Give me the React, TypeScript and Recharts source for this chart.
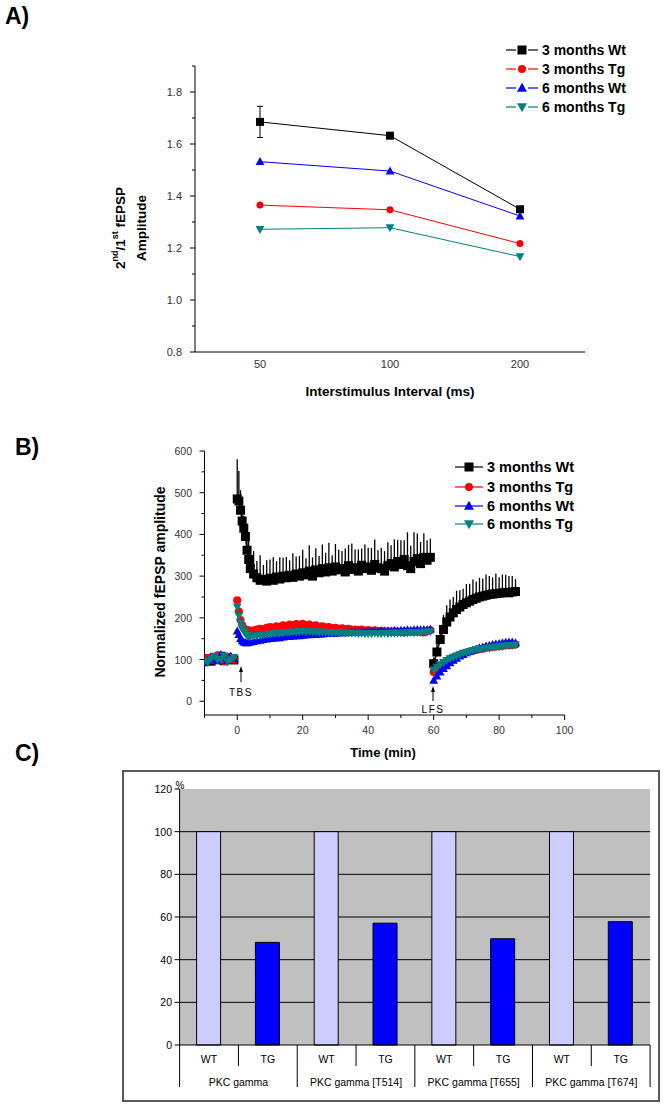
import React from 'react';
import { LineChart, Line, XAxis, YAxis, ErrorBar, BarChart, Bar, Cell, CartesianGrid } from 'recharts';

const FONT = '"Liberation Sans", Arial, Helvetica, sans-serif';

// ---------- A) paired-pulse facilitation ----------
const isiLabels = ['50', '100', '200'];
const ppfWt3 = [1.685, 1.632, 1.349];
const ppfTg3 = [1.365, 1.347, 1.217];
const ppfWt6 = [1.532, 1.496, 1.323];
const ppfTg6 = [1.272, 1.278, 1.167];
const ppfWt3Err = [0.06, 0.006, 0.006];
const ppfTicks = [0.8, 0.9, 1.0, 1.1, 1.2, 1.3, 1.4, 1.5, 1.6, 1.7, 1.8, 1.9];

// ---------- B) LTP time course ----------
const baseTime = [-10, -9, -8, -7, -6, -5, -4, -3, -2, -1];
const baseWt3 = [98, 102, 96, 105, 100, 108, 97, 104, 101, 99];
const baseWt3Err = [8, 6, 10, 7, 9, 6, 8, 10, 7, 9];
const baseTg3 = [95, 104, 100, 98, 110, 102, 96, 106, 103, 100];
const baseWt6 = [92, 99, 106, 101, 97, 112, 104, 98, 108, 102];
const baseTg6 = [97, 93, 103, 108, 99, 101, 109, 95, 100, 105];

const tbsTime = [0, 0.5, 1, 1.5, 2, 2.5, 3, 3.5, 4, 5, 6, 7, 8, 9, 10, 11, 12, 13, 14, 15, 16, 17, 18, 19, 20, 21, 22, 23, 24, 25, 26, 27, 28, 29, 30, 31, 32, 33, 34, 35, 36, 37, 38, 39, 40, 41, 42, 43, 44, 45, 46, 47, 48, 49, 50, 51, 52, 53, 54, 55, 56, 57, 58, 59];
const tbsWt3 = [485, 480, 458, 432, 415, 395, 362, 340, 318,
  305, 296, 290, 292, 288, 295, 290, 298, 293, 300,
  296, 302, 297, 305, 300, 308, 303, 312, 300, 315,
  308, 318, 310, 320, 312, 322, 315, 318, 310, 325,
  316, 320, 312, 326, 318, 322, 314, 328, 320, 318,
  312, 325, 330, 322, 335, 328, 340, 325, 318, 335,
  342, 330, 345, 338, 345];
const tbsWt3Err = [95, 72, 48, 42, 30, 28, 25, 45, 50,
  55, 40, 60, 35, 50, 45, 55, 38, 52, 44,
  50, 36, 58, 42, 48, 55, 40, 62, 45, 52,
  40, 58, 46, 60, 38, 55, 48, 42, 56, 50,
  62, 44, 52, 40, 58, 46, 54, 60, 42, 50,
  48, 56, 44, 66, 52, 58, 46, 80, 55, 70,
  60, 52, 58, 48, 45];
const tbsTg3 = [242, 215, 195, 182, 175, 172, 170, 170, 168,
  170, 172, 174, 172, 176, 178, 176, 180, 178, 182,
  180, 184, 182, 185, 183, 186, 182, 184, 180, 182,
  178, 180, 177, 178, 175, 176, 174, 175, 172, 174,
  171, 172, 170, 172, 169, 171, 168, 170, 168, 169,
  167, 168, 166, 168, 166, 167, 165, 167, 166, 168,
  166, 167, 165, 168, 170];
const tbsWt6 = [168, 160, 150, 145, 142, 140, 140, 141, 142,
  143, 145, 146, 148, 149, 150, 151, 152, 152, 154,
  155, 155, 156, 157, 157, 158, 159, 159, 160, 160,
  161, 161, 162, 162, 163, 163, 164, 164, 164, 165,
  165, 166, 166, 166, 167, 167, 168, 167, 168, 168,
  169, 168, 169, 170, 169, 170, 170, 171, 170, 171,
  172, 171, 172, 172, 173];
const tbsTg6 = [226, 205, 188, 176, 168, 162, 158, 156, 155,
  156, 157, 158, 159, 160, 161, 162, 163, 163, 164,
  165, 165, 166, 166, 167, 167, 166, 167, 166, 166,
  165, 166, 165, 165, 164, 165, 164, 164, 163, 164,
  163, 163, 162, 163, 162, 162, 162, 163, 162, 162,
  163, 162, 163, 163, 164, 163, 164, 164, 165, 164,
  165, 165, 166, 166, 167];

const lfsTime = [60, 61, 62, 63, 64, 65, 66, 67, 68, 69, 70, 71, 72, 73, 74, 75, 76, 77, 78, 79, 80, 81, 82, 83, 84, 85];
const lfsWt3 = [90, 118, 148, 172, 190, 202, 212, 220, 226, 232, 236, 240, 244, 247, 250, 252, 254, 256, 257, 258, 259, 260, 261, 260, 262, 263];
const lfsWt3Err = [15, 22, 28, 35, 40, 42, 38, 45, 40, 38, 45, 42, 48, 40, 46, 42, 50, 44, 40, 48, 38, 44, 42, 40, 38, 30];
const lfsTg3 = [70, 78, 85, 91, 96, 101, 105, 108, 111, 114, 117, 119, 121, 123, 125, 126, 128, 129, 130, 131, 132, 133, 134, 134, 135, 136];
const lfsWt6 = [50, 60, 70, 78, 85, 92, 98, 103, 108, 112, 116, 119, 122, 125, 128, 130, 132, 134, 136, 137, 138, 140, 141, 142, 142, 140];
const lfsTg6 = [75, 82, 88, 93, 98, 102, 106, 109, 112, 115, 117, 119, 121, 123, 124, 126, 127, 128, 129, 130, 131, 132, 133, 134, 134, 135];

const ltpXTicks = [-10, 0, 10, 20, 30, 40, 50, 60, 70, 80, 90, 100];
const ltpYTicks = [0, 50, 100, 150, 200, 250, 300, 350, 400, 450, 500, 550, 600];

// ---------- C) western blot quantification ----------
const groups = ['PKC gamma', 'PKC gamma [T514]', 'PKC gamma [T655]', 'PKC gamma [T674]'];
const lanes = ['WT', 'TG'];
const wtPct = [100, 100, 100, 100];
const tgPct = [48.1, 57.1, 49.8, 57.8];
const pctTicks = [0, 20, 40, 60, 80, 100, 120];

const SERIES = [
  { key: 'wt3', name: '3 months Wt', color: '#000000', shape: 'square' },
  { key: 'tg3', name: '3 months Tg', color: '#ff0000', shape: 'circle' },
  { key: 'wt6', name: '6 months Wt', color: '#0000ff', shape: 'up' },
  { key: 'tg6', name: '6 months Tg', color: '#008080', shape: 'down' },
];

function marker(shape: string, cx: number, cy: number, s: number, color: string, key?: string) {
  const h = s / 2;
  if (shape === 'square') return <rect key={key} x={cx - h} y={cy - h} width={s} height={s} fill={color} />;
  if (shape === 'circle') return <circle key={key} cx={cx} cy={cy} r={h} fill={color} />;
  if (shape === 'up')
    return <polygon key={key} points={`${cx},${cy - h * 1.15} ${cx - h * 1.1},${cy + h * 0.85} ${cx + h * 1.1},${cy + h * 0.85}`} fill={color} />;
  return <polygon key={key} points={`${cx},${cy + h * 1.15} ${cx - h * 1.1},${cy - h * 0.85} ${cx + h * 1.1},${cy - h * 0.85}`} fill={color} />;
}

const dotFor = (shape: string, color: string, size: number) => (p: any) => {
  const k = `d-${p.index}`;
  if (p.cx == null || p.cy == null) return <g key={k} />;
  return marker(shape, p.cx, p.cy, size, color, k);
};

const ppfRows = isiLabels.map((isi, i) => ({
  isi, wt3: ppfWt3[i], tg3: ppfTg3[i], wt6: ppfWt6[i], tg6: ppfTg6[i], wt3Err: ppfWt3Err[i],
}));

const segments = [
  { t: baseTime, wt3: baseWt3, err: baseWt3Err, tg3: baseTg3, wt6: baseWt6, tg6: baseTg6 },
  { t: tbsTime, wt3: tbsWt3, err: tbsWt3Err, tg3: tbsTg3, wt6: tbsWt6, tg6: tbsTg6 },
  { t: lfsTime, wt3: lfsWt3, err: lfsWt3Err, tg3: lfsTg3, wt6: lfsWt6, tg6: lfsTg6 },
];
const segRows = segments.map((s) =>
  s.t.map((t, i) => ({ t, wt3: s.wt3[i], wt3Err: [0, s.err[i]], tg3: s.tg3[i], wt6: s.wt6[i], tg6: s.tg6[i] }))
);

const wbRows = groups.flatMap((g, gi) => [
  { id: `${gi}-WT`, lane: lanes[0], group: g, pct: wtPct[gi] },
  { id: `${gi}-TG`, lane: lanes[1], group: g, pct: tgPct[gi] },
]);

// layout of the three plot areas (chart coordinates)
const A_LEFT = 195;
const B_LEFT = 204.5;
const B_BOTTOM = 285;
const C_LEFT = 56.6;
const C_RIGHT = 527.1;
const C_BOTTOM = 274;
const C_BAND = (C_RIGHT - C_LEFT) / 8;

const ppfYTick = (p: any) => {
  const v = p.payload.value;
  const major = Math.round(v * 10) % 2 === 0;
  return (
    <g>
      <line x1={A_LEFT - (major ? 5 : 3)} x2={A_LEFT} y1={p.y} y2={p.y} stroke="#000" />
      {major && (
        <text x={182} y={p.y} textAnchor="end" dominantBaseline="central" fontSize={11} fill="#333" fontFamily={FONT}>
          {v.toFixed(1)}
        </text>
      )}
    </g>
  );
};

const ppfXTick = (p: any) => (
  <text x={p.x} y={364} textAnchor="middle" dominantBaseline="central" fontSize={11} fill="#333" fontFamily={FONT}>
    {p.payload.value}
  </text>
);

const ltpYTick = (p: any) => {
  const v = p.payload.value;
  const major = v % 100 === 0;
  return (
    <g>
      <line x1={B_LEFT - (major ? 5 : 3)} x2={B_LEFT} y1={p.y} y2={p.y} stroke="#000" />
      {major && (
        <text x={192} y={p.y} textAnchor="end" dominantBaseline="central" fontSize={10.5} fill="#333" fontFamily={FONT}>
          {v}
        </text>
      )}
    </g>
  );
};

const ltpXTick = (p: any) => {
  const v = p.payload.value;
  const major = v % 20 === 0;
  return (
    <g>
      <line x1={p.x} x2={p.x} y1={B_BOTTOM} y2={B_BOTTOM + (major ? 5 : 3)} stroke="#000" />
      {major && (
        <text x={p.x} y={300} textAnchor="middle" dominantBaseline="central" fontSize={10.5} fill="#333" fontFamily={FONT}>
          {v}
        </text>
      )}
    </g>
  );
};

const pctYTick = (p: any) => (
  <g>
    <line x1={C_LEFT - 5} x2={C_LEFT} y1={p.y} y2={p.y} stroke="#000" />
    <text x={49} y={p.y} textAnchor="end" dominantBaseline="central" fontSize={10.5} fill="#000" fontFamily={FONT}>
      {p.payload.value}
    </text>
  </g>
);

const laneTick = (p: any) => {
  const i = p.payload.index;
  const row = wbRows[i];
  const right = p.x + C_BAND / 2;
  const isTG = i % 2 === 1;
  return (
    <g>
      {i === 0 && <line x1={p.x - C_BAND / 2} x2={p.x - C_BAND / 2} y1={C_BOTTOM} y2={316} stroke="#000" />}
      <line x1={right} x2={right} y1={C_BOTTOM} y2={isTG ? 316 : 295} stroke="#000" />
      <text x={p.x} y={288} textAnchor="middle" dominantBaseline="central" fontSize={10.5} fill="#000" fontFamily={FONT}>
        {row.lane}
      </text>
      {isTG && (
        <text x={p.x - C_BAND / 2} y={311} textAnchor="middle" dominantBaseline="central" fontSize={10.5} fill="#000" fontFamily={FONT}>
          {row.group}
        </text>
      )}
    </g>
  );
};

function LegendRow({ x0, x1, y, s, size, textX, fontSize, gap }: any) {
  const mid = (x0 + x1) / 2;
  return (
    <g>
      <line x1={x0} x2={mid - gap} y1={y} y2={y} stroke={s.color} strokeWidth={1.2} />
      <line x1={mid + gap} x2={x1} y1={y} y2={y} stroke={s.color} strokeWidth={1.2} />
      {marker(s.shape, mid, y, size, s.color)}
      <text x={textX} y={y} dominantBaseline="central" fontSize={fontSize} fontWeight="bold" fill="#000" fontFamily={FONT}>
        {s.name}
      </text>
    </g>
  );
}

export default function App() {
  return (
    <div style={{ position: 'absolute', left: 0, top: 0, width: 664, height: 1107, background: '#fff', fontFamily: FONT }}>
      {/* A */}
      <div style={{ position: 'absolute', left: 0, top: 0 }}>
        <LineChart width={664} height={400} data={ppfRows} margin={{ top: 66, right: 79, bottom: 18, left: 135 }}>
          <XAxis dataKey="isi" height={30} padding={{ left: 65, right: 65 }} axisLine={{ stroke: '#000' }} tickLine={false} interval={0} tick={ppfXTick} />
          <YAxis type="number" domain={[0.8, 1.9]} ticks={ppfTicks} interval={0} width={60} allowDataOverflow axisLine={{ stroke: '#000' }} tickLine={false} tick={ppfYTick} />
          {SERIES.map((s) => (
            <Line key={s.key} dataKey={s.key} type="linear" stroke={s.color} strokeWidth={1} isAnimationActive={false}
              dot={dotFor(s.shape, s.color, s.shape === 'circle' ? 7 : 8)} activeDot={false}>
              {s.key === 'wt3' && <ErrorBar dataKey="wt3Err" width={3} stroke="#000" strokeWidth={1} direction="y" />}
            </Line>
          ))}
        </LineChart>
      </div>

      {/* B */}
      <div style={{ position: 'absolute', left: 0, top: 430 }}>
        <LineChart width={664} height={320} margin={{ top: 21, right: 99.4, bottom: 5, left: 144.5 }}>
          <XAxis type="number" dataKey="t" domain={[-10, 100]} ticks={ltpXTicks} interval={0} height={30} allowDataOverflow axisLine={{ stroke: '#000' }} tickLine={false} tick={ltpXTick} />
          <YAxis type="number" domain={[-33, 600]} ticks={ltpYTicks} interval={0} width={60} allowDataOverflow axisLine={{ stroke: '#000' }} tickLine={false} tick={ltpYTick} />
          {SERIES.map((s) =>
            segRows.map((rows, si) => (
              <Line key={`${s.key}-${si}`} data={rows} dataKey={s.key} type="linear" stroke={s.color}
                strokeWidth={s.key === 'wt3' ? 1.5 : 2.5}
                isAnimationActive={false} dot={dotFor(s.shape, s.color, s.key === 'wt3' ? 9 : 8)} activeDot={false}>
                {s.key === 'wt3' && <ErrorBar dataKey="wt3Err" width={0} stroke="#000" strokeWidth={1.3} direction="y" />}
              </Line>
            ))
          )}
        </LineChart>
      </div>

      {/* C */}
      <div style={{ position: 'absolute', left: 122, top: 770, width: 538, height: 332, border: '2px solid #5a5a5a', boxSizing: 'border-box' }} />
      <div style={{ position: 'absolute', left: 123, top: 771 }}>
        <BarChart width={536} height={330} data={wbRows} margin={{ top: 18, right: 8.9, bottom: 6, left: 16.6 }} barSize={24}>
          <CartesianGrid vertical={false} horizontalValues={[20, 40, 60, 80, 100]} stroke="#000" fill="#c0c0c0" />
          <XAxis dataKey="id" height={50} axisLine={{ stroke: '#000' }} tickLine={false} interval={0} tick={laneTick} />
          <YAxis type="number" domain={[0, 120]} ticks={pctTicks} interval={0} width={40} axisLine={{ stroke: '#000' }} tickLine={false} tick={pctYTick} />
          <Bar dataKey="pct" isAnimationActive={false} stroke="#000" strokeWidth={1}>
            {wbRows.map((r, i) => (
              <Cell key={`c-${i}`} fill={r.lane === 'WT' ? '#ccccff' : '#0000ff'} />
            ))}
          </Bar>
        </BarChart>
      </div>

      {/* titles, legends, annotations */}
      <svg width={664} height={1107} style={{ position: 'absolute', left: 0, top: 0, pointerEvents: 'none' }} fontFamily={FONT}>
        <text x={5} y={24} fontSize={23} fontWeight="bold" fill="#000">A)</text>
        <text x={15} y={455} fontSize={23} fontWeight="bold" fill="#000">B)</text>
        <text x={15} y={761} fontSize={23} fontWeight="bold" fill="#000">C)</text>

        {SERIES.map((s, i) => (
          <LegendRow key={`la-${s.key}`} s={s} x0={506} x1={538} y={50 + i * 19} size={s.shape === 'circle' ? 8 : 9} textX={542} fontSize={14} gap={6} />
        ))}
        <g transform="translate(120,228) rotate(-90)">
          <text x={0} y={0} textAnchor="middle" dominantBaseline="central" fontSize={13.5} fontWeight="bold" fill="#000">
            2<tspan fontSize={9} dy={-5}>nd</tspan><tspan dy={5}>/1</tspan><tspan fontSize={9} dy={-5}>st</tspan><tspan dy={5}> fEPSP</tspan>
          </text>
        </g>
        <g transform="translate(141,228) rotate(-90)">
          <text x={0} y={0} textAnchor="middle" dominantBaseline="central" fontSize={13.5} fontWeight="bold" fill="#000">Amplitude</text>
        </g>
        <text x={390} y={391} textAnchor="middle" dominantBaseline="central" fontSize={13.5} fontWeight="bold" fill="#000">
          Interstimulus Interval (ms)
        </text>

        {SERIES.map((s, i) => (
          <LegendRow key={`lb-${s.key}`} s={s} x0={455} x1={483} y={[467, 487, 506, 524][i]} size={s.shape === 'circle' ? 8 : 9} textX={487} fontSize={14.5} gap={0} />
        ))}
        <g transform="translate(160,582) rotate(-90)">
          <text x={0} y={0} textAnchor="middle" dominantBaseline="central" fontSize={14} fontWeight="bold" fill="#000">
            Normalized fEPSP amplitude
          </text>
        </g>
        <text x={383} y={752} textAnchor="middle" dominantBaseline="central" fontSize={13} fontWeight="bold" fill="#000">Time (min)</text>
        <line x1={241} x2={241} y1={682} y2={670} stroke="#000" strokeWidth={1} />
        <polygon points="241,666 239,672 243,672" fill="#000" />
        <text x={241} y={692} textAnchor="middle" dominantBaseline="central" fontSize={10} letterSpacing={1.5} fill="#000">TBS</text>
        <line x1={433} x2={433} y1={701} y2={690} stroke="#000" strokeWidth={1} />
        <polygon points="433,686 431,692 435,692" fill="#000" />
        <text x={433} y={709} textAnchor="middle" dominantBaseline="central" fontSize={10} letterSpacing={1.5} fill="#000">LFS</text>

        <text x={180} y={785} textAnchor="middle" dominantBaseline="central" fontSize={10} fill="#000">%</text>
      </svg>
    </div>
  );
}
